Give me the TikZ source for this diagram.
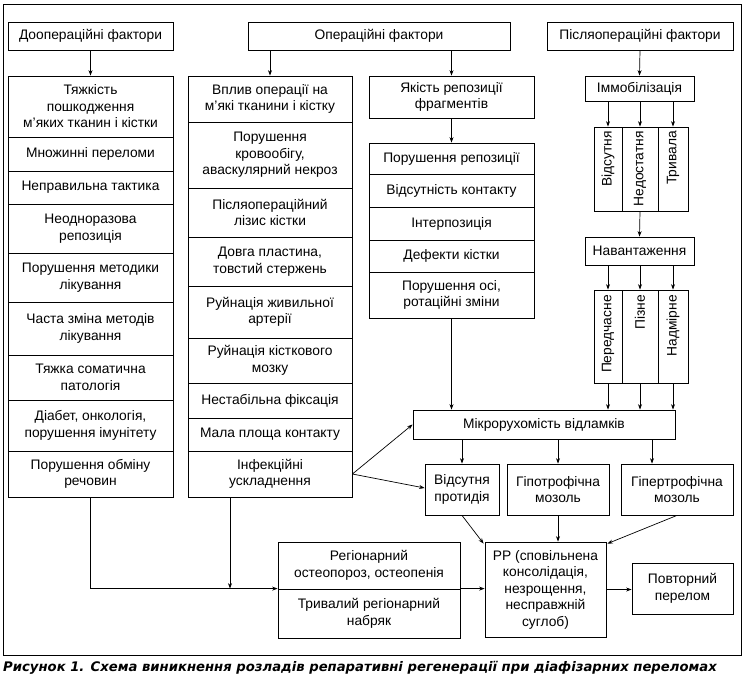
\documentclass[tikz,border=0pt]{standalone}
\usepackage{fontspec}
\setmainfont{Liberation Sans}
\newfontfamily\capfont{DejaVu Sans}
\usetikzlibrary{arrows.meta,calc}
\begin{document}
\begin{tikzpicture}[x=1pt,y=-1pt,
  box/.style={draw, line width=0.8pt, align=center, inner sep=1pt, font=\fontsize{13.8}{16.5}\selectfont},
  cell/.style={draw, line width=0.8pt, inner sep=0pt},
  vt/.style={rotate=90, anchor=east, inner sep=0pt, font=\fontsize{13.8}{16.5}\selectfont},
  arr/.style={line width=0.7pt, -{Stealth[length=5.5pt,width=4pt]}},
  ln/.style={line width=0.7pt}]
\useasboundingbox (0,0) rectangle (745,681);
\draw[line width=0.9pt] (3,4) rectangle (741,655);
% headers
\node[box, minimum width=165pt, minimum height=28pt] (h1) at (90.5,36) {Доопераційні фактори};
\node[box, minimum width=262pt, minimum height=28pt] (h2) at (379,36) {Операційні фактори};
\node[box, minimum width=186pt, minimum height=28pt] (h3) at (640,36) {Післяопераційні фактори};
% column 1
\begin{scope}[every node/.append style={box, minimum width=165pt}]
\node[minimum height=61pt] (c1a) at (90.5,106.5) {Тяжкість\\пошкодження\\м’яких тканин і кістки};
\node[minimum height=34pt] (c1b) at (90.5,154) {Множинні переломи};
\node[minimum height=33pt] (c1c) at (90.5,187.5) {Неправильна тактика};
\node[minimum height=49pt] (c1d) at (90.5,228.5) {Неодноразова\\репозиція};
\node[minimum height=49pt] (c1e) at (90.5,277.5) {Порушення методики\\лікування};
\node[minimum height=53pt] (c1f) at (90.5,328.5) {Часта зміна методів\\лікування};
\node[minimum height=45pt] (c1g) at (90.5,377.5) {Тяжка соматична\\патологія};
\node[minimum height=51pt] (c1h) at (90.5,425.5) {Діабет, онкологія,\\порушення імунітету};
\node[minimum height=46pt] (c1i) at (90.5,474) {Порушення обміну\\речовин};
\end{scope}
% column 2
\begin{scope}[every node/.append style={box, minimum width=164pt}]
\node[minimum height=46pt] (c2a) at (270,99) {Вплив операції на\\м’які тканини і кістку};
\node[minimum height=66pt] (c2b) at (270,155) {Порушення\\кровообігу,\\аваскулярний некроз};
\node[minimum height=49pt] (c2c) at (270,212.5) {Післяопераційний\\лізис кістки};
\node[minimum height=49pt] (c2d) at (270,261.5) {Довга пластина,\\товстий стержень};
\node[minimum height=52pt] (c2e) at (270,312) {Руйнація живильної\\артерії};
\node[minimum height=45pt] (c2f) at (270,360.5) {Руйнація кісткового\\мозку};
\node[minimum height=35pt] (c2g) at (270,400.5) {Нестабільна фіксація};
\node[minimum height=33pt] (c2h) at (270,434.5) {Мала площа контакту};
\node[minimum height=46pt] (c2i) at (270,474) {Інфекційні\\ускладнення};
\end{scope}
% column 3
\begin{scope}[every node/.append style={box, minimum width=165pt}]
\node[minimum height=42pt] (q) at (451.5,97) {Якість репозиції\\фрагментів};
\node[minimum height=31pt] (c3a) at (451.5,158.5) {Порушення репозиції};
\node[minimum height=33pt] (c3b) at (451.5,190.5) {Відсутність контакту};
\node[minimum height=33pt] (c3c) at (451.5,223.5) {Інтерпозиція};
\node[minimum height=32pt] (c3d) at (451.5,256) {Дефекти кістки};
\node[minimum height=46pt] (c3e) at (451.5,295) {Порушення осі,\\ротаційні зміни};
\end{scope}
% column 4
\node[box, minimum width=109pt, minimum height=25pt] (imm) at (639.5,88.5) {Іммобілізація};
\node[cell, minimum width=28pt, minimum height=84pt] (g1a) at (608,169) {};
\node[cell, minimum width=36pt, minimum height=84pt] (g1b) at (640,169) {};
\node[cell, minimum width=30pt, minimum height=84pt] (g1c) at (673,169) {};
\node[vt] (t1a) at (608,131) {Відсутня};
\node[vt] (t1b) at (640,131) {Недостатня};
\node[vt] (t1c) at (673,131) {Тривала};
\node[box, minimum width=109pt, minimum height=28pt] (nav) at (639.5,251) {Навантаження};
\node[cell, minimum width=28pt, minimum height=93pt] (g2a) at (608,336.5) {};
\node[cell, minimum width=36pt, minimum height=93pt] (g2b) at (640,336.5) {};
\node[cell, minimum width=30pt, minimum height=93pt] (g2c) at (673,336.5) {};
\node[vt] (t2a) at (608,295) {Передчасне};
\node[vt] (t2b) at (640,295) {Пізне};
\node[vt] (t2c) at (673,295) {Надмірне};
% lower part
\node[box, minimum width=262pt, minimum height=29pt] (mik) at (544,424.5) {Мікрорухомість відламків};
\node[box, minimum width=74pt, minimum height=51pt] (vp) at (462,489.5) {Відсутня\\протидія};
\node[box, minimum width=102pt, minimum height=51pt] (hypo) at (558,489.5) {Гіпотрофічна\\мозоль};
\node[box, minimum width=112pt, minimum height=51pt] (hyper) at (677,489.5) {Гіпертрофічна\\мозоль};
\node[box, minimum width=182pt, minimum height=47pt] (reg1) at (369,565.5) {Регіонарний\\остеопороз, остеопенія};
\node[box, minimum width=182pt, minimum height=49pt] (reg2) at (369,613.5) {Тривалий регіонарний\\набряк};
\node[box, minimum width=121pt, minimum height=95pt] (rr) at (545.5,589.5) {РР (сповільнена\\консолідація,\\незрощення,\\несправжній\\суглоб)};
\node[box, minimum width=101pt, minimum height=51pt] (pov) at (682.5,588.5) {Повторний\\перелом};
% arrows
\draw[arr] (h1.south) -- (c1a.north);
\draw[arr] (h2.south -| c2a.north) -- (c2a.north);
\draw[arr] (h2.south -| q.north) -- (q.north);
\draw[arr] (h3.south) -- (imm.north);
\draw[arr] (q.south) -- (c3a.north);
\foreach \g in {g1a,g1b,g1c} \draw[arr] (imm.south -| \g.north) -- (\g.north);
\draw[arr] (g1b.south) -- (nav.north);
\foreach \g in {g2a,g2b,g2c} \draw[arr] (nav.south -| \g.north) -- (\g.north);
\foreach \g in {g2a,g2b,g2c} \draw[arr] (\g.south) -- (\g.south |- mik.north);
\draw[arr] (c3e.south) -- (c3e.south |- mik.north);
\draw[arr] (mik.south -| vp.north) -- (vp.north);
\draw[arr] (mik.south -| hypo.north) -- (hypo.north);
\draw[arr] ([xshift=-25pt]hyper.north |- mik.south) -- ([xshift=-25pt]hyper.north);
\draw[arr] (c2i.east) -- (mik.west);
\draw[arr] (c2i.east) -- ([yshift=1.5pt]vp.west);
\draw[arr] (vp.south) -- ([shift={(-1pt,-2pt)}]rr.north west);
\draw[arr] (hypo.south) -- (hypo.south |- rr.north);
\draw[arr] (hyper.south) -- ([shift={(1pt,-2pt)}]rr.north east);
\draw[arr] (c1i.south) |- (reg2.north west);
\draw[arr] ([xshift=-40pt]c2i.south) -- ([xshift=-40pt]c2i.south |- reg2.north);
\draw[arr] (reg2.north east) -- (reg2.north east -| rr.west);
\draw[arr] (rr.east) -- (rr.east -| pov.west);
% caption
\node[anchor=west, inner sep=0pt, font=\fontsize{13.2}{16}\capfont\bfseries\itshape] (cap) at (3,668) {Рисунок 1. Схема виникнення розладів репаративні регенерації при діафізарних переломах};
\end{tikzpicture}
\end{document}
